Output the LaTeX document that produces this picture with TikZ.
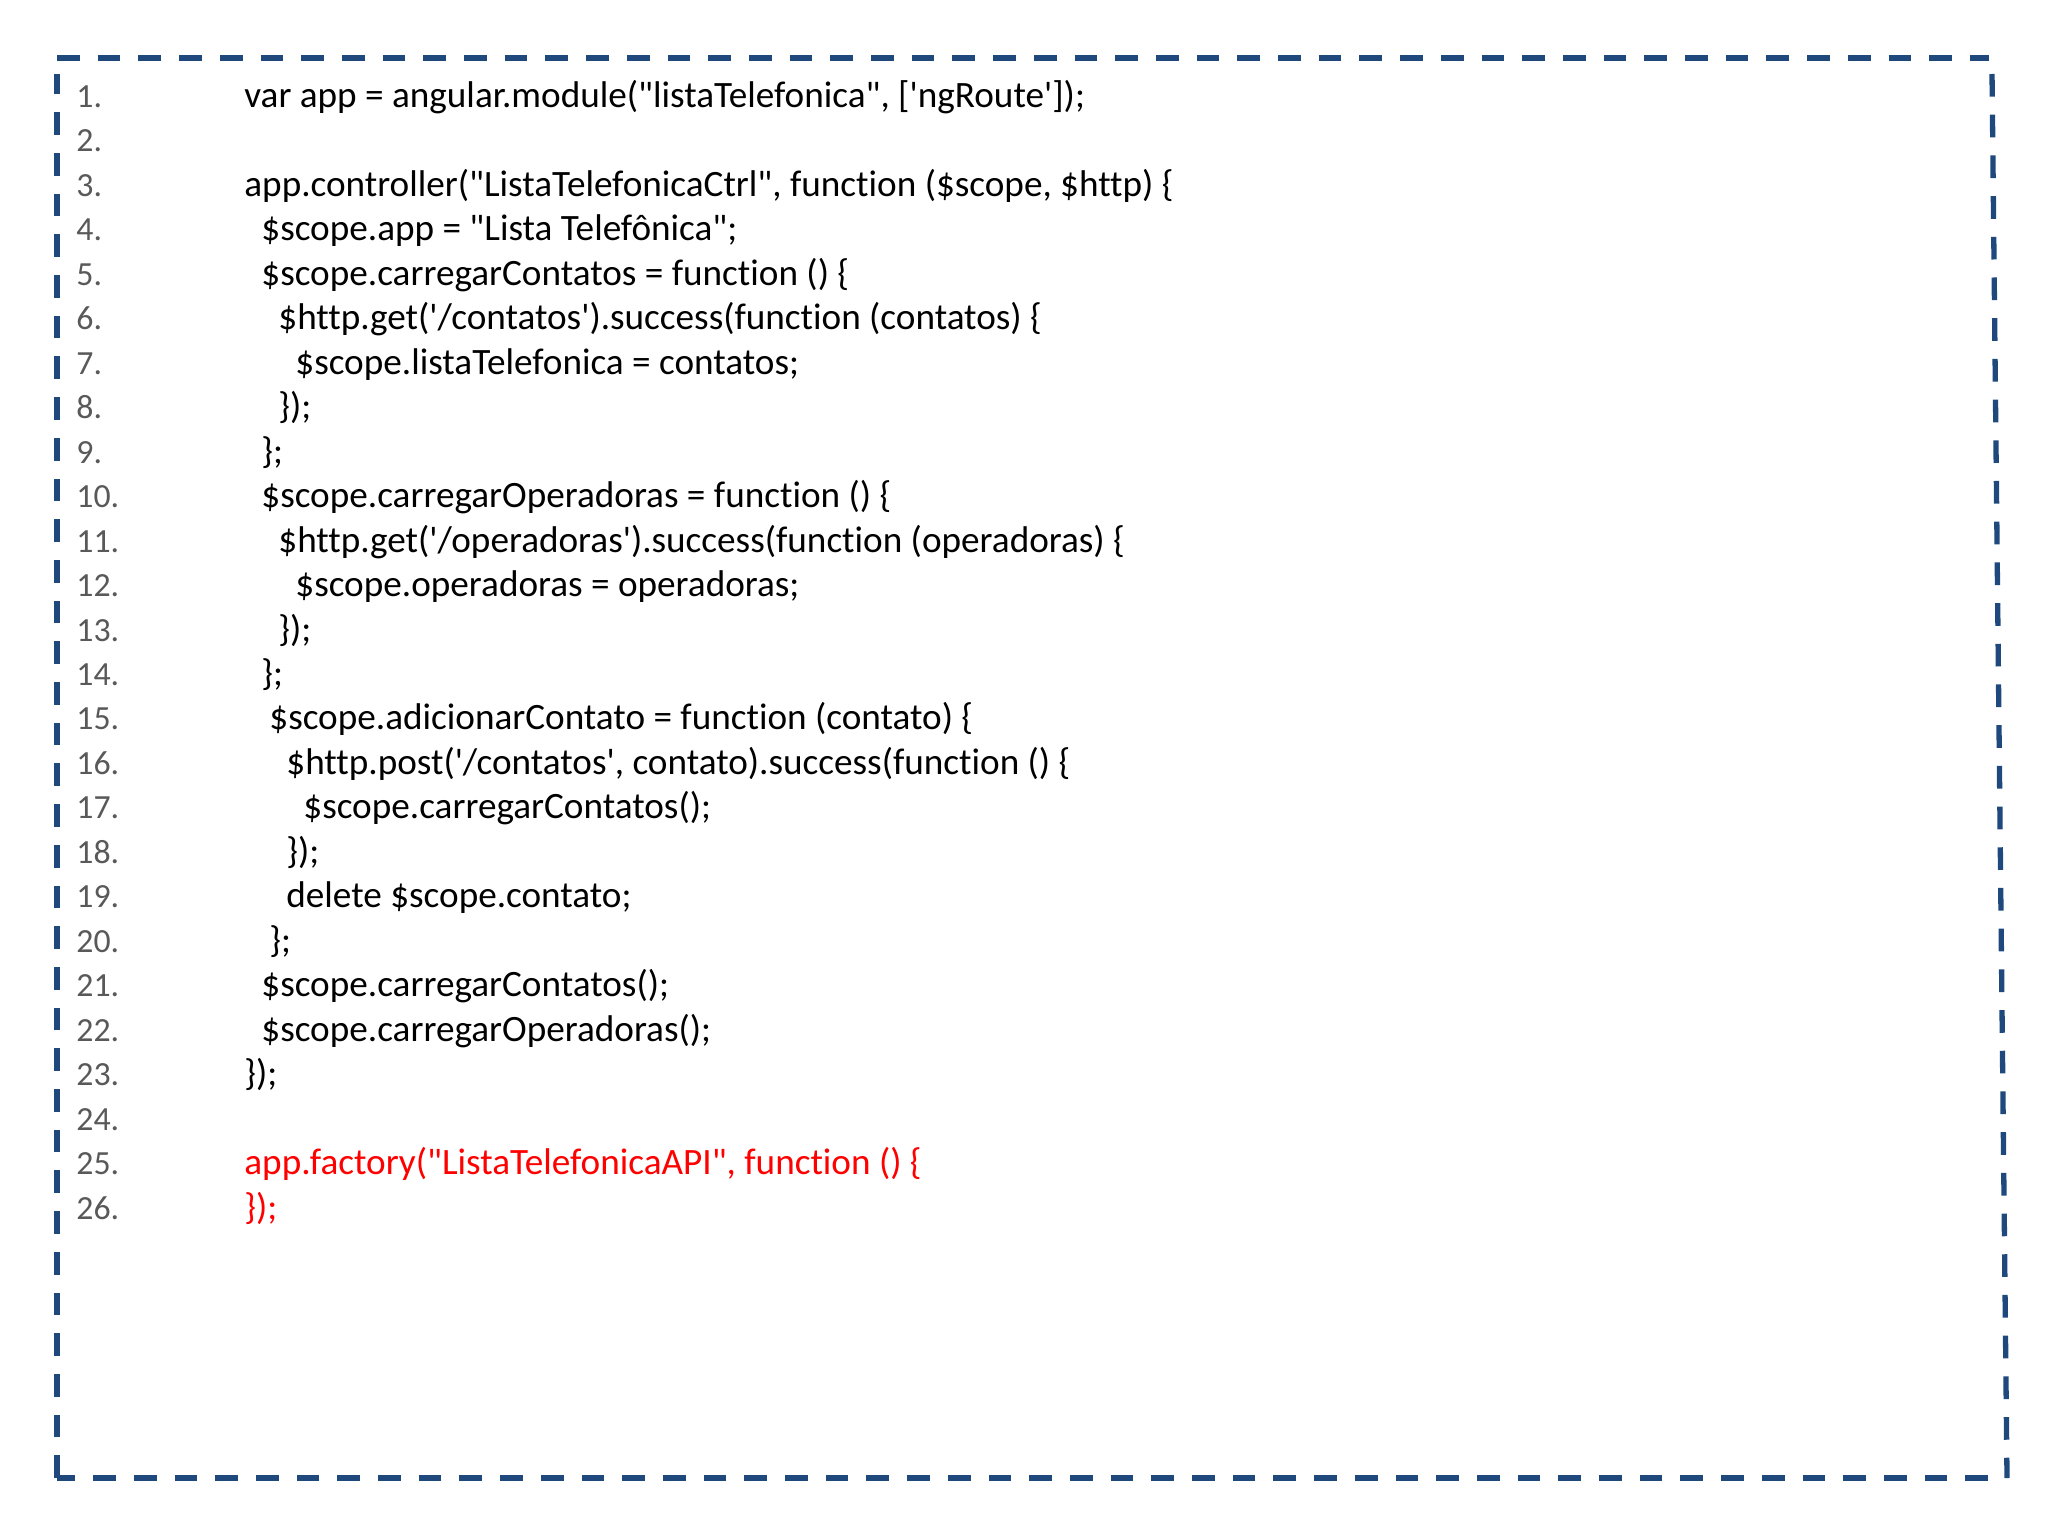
\documentclass[tikz,border=0pt]{standalone}
\usepackage{fontspec}
\newfontfamily\codefont{Carlito}[Ligatures={NoCommon}]
\definecolor{framecol}{HTML}{1F497D}
\definecolor{numcol}{HTML}{595959}
\definecolor{redcode}{HTML}{FF0000}
\tikzset{
  frameline/.style={draw=framecol, line width=2.65pt, dash pattern=on 11.35pt off 9pt},
  numtxt/.style={anchor=base west, inner sep=0pt, text=numcol, font=\codefont\fontsize{16.9pt}{19pt}\selectfont},
  codetxt/.style={anchor=base west, inner sep=0pt, text=black, font=\codefont\fontsize{18.6pt}{21pt}\selectfont},
  redtxt/.style={codetxt, text=redcode}
}
\begin{document}
\begin{tikzpicture}[x=0.5pt, y=-0.5pt]
\useasboundingbox (0,0) rectangle (2048,1536);
% frame
\coordinate (tl) at (57,58);
\coordinate (tr) at (1989,58);
\coordinate (rt) at (1992,74);
\coordinate (rb) at (2007,1478);
\coordinate (br) at (1988,1478);
\coordinate (bl) at (57,1478);
\coordinate (lt) at (57,74);
\draw[frameline] (tl) -- (tr);
\draw[frameline] (rt) -- (rb);
\draw[frameline] (br) -- (bl);
\draw[frameline] (bl) -- (lt);
% line numbers
\foreach \i in {1,...,26} {
  \node[numtxt] (n\i) at (76, {107.5+44.46*(\i-1)}) {\i.};
}
% code
\node[codetxt] (c1)  at (244, {107.5+44.46*0})  {var app = angular.module("listaTelefonica", ['ngRoute']);};
\node[codetxt] (c3)  at (244, {107.5+44.46*2})  {app.controller("ListaTelefonicaCtrl", function (\$scope, \$http) \{};
\node[codetxt] (c4)  at (261, {107.5+44.46*3})  {\$scope.app = "Lista Telefônica";};
\node[codetxt] (c5)  at (261, {107.5+44.46*4})  {\$scope.carregarContatos = function () \{};
\node[codetxt] (c6)  at (278, {107.5+44.46*5})  {\$http.get('/contatos').success(function (contatos) \{};
\node[codetxt] (c7)  at (295, {107.5+44.46*6})  {\$scope.listaTelefonica = contatos;};
\node[codetxt] (c8)  at (278, {107.5+44.46*7})  {\});};
\node[codetxt] (c9)  at (261, {107.5+44.46*8})  {\};};
\node[codetxt] (c10) at (261, {107.5+44.46*9})  {\$scope.carregarOperadoras = function () \{};
\node[codetxt] (c11) at (278, {107.5+44.46*10}) {\$http.get('/operadoras').success(function (operadoras) \{};
\node[codetxt] (c12) at (295, {107.5+44.46*11}) {\$scope.operadoras = operadoras;};
\node[codetxt] (c13) at (278, {107.5+44.46*12}) {\});};
\node[codetxt] (c14) at (261, {107.5+44.46*13}) {\};};
\node[codetxt] (c15) at (269, {107.5+44.46*14}) {\$scope.adicionarContato = function (contato) \{};
\node[codetxt] (c16) at (286, {107.5+44.46*15}) {\$http.post('/contatos', contato).success(function () \{};
\node[codetxt] (c17) at (303, {107.5+44.46*16}) {\$scope.carregarContatos();};
\node[codetxt] (c18) at (286, {107.5+44.46*17}) {\});};
\node[codetxt] (c19) at (286, {107.5+44.46*18}) {delete \$scope.contato;};
\node[codetxt] (c20) at (269, {107.5+44.46*19}) {\};};
\node[codetxt] (c21) at (261, {107.5+44.46*20}) {\$scope.carregarContatos();};
\node[codetxt] (c22) at (261, {107.5+44.46*21}) {\$scope.carregarOperadoras();};
\node[codetxt] (c23) at (244, {107.5+44.46*22}) {\});};
\node[redtxt]  (c25) at (244, {107.5+44.46*24}) {app.factory("ListaTelefonicaAPI", function () \{};
\node[redtxt]  (c26) at (244, {107.5+44.46*25}) {\});};
\end{tikzpicture}
\end{document}
